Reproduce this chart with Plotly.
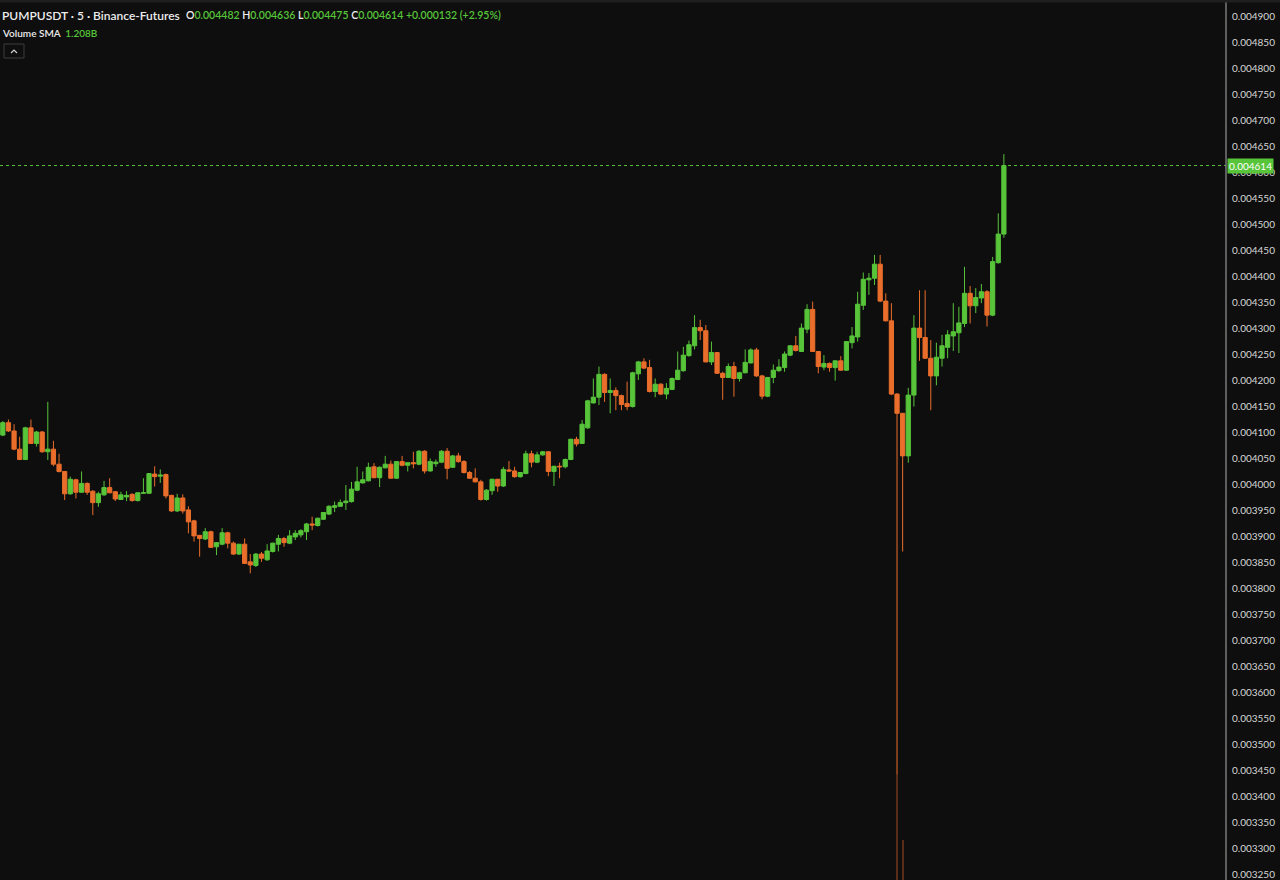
import plotly.graph_objects as go

symbol_title = "PUMPUSDT · 5 · Binance-Futures"
volume_sma_label = "Volume SMA"
volume_sma_value = "1.208B"

opens = [0.004095,0.004119,0.004103,0.004068,0.004048,0.004109,0.004079,0.004101,0.004063,0.004068,
0.004039,0.004025,0.003982,0.004009,0.003985,0.004002,0.003987,0.003965,0.003980,0.003994,
0.003986,0.003971,0.003976,0.003981,0.003969,0.003983,0.003983,0.004020,0.004016,0.004019,
0.003979,0.003949,0.003974,0.003951,0.003930,0.003902,0.003895,0.003909,0.003880,0.003885,
0.003907,0.003887,0.003866,0.003885,0.003851,0.003844,0.003866,0.003855,0.003871,0.003885,
0.003896,0.003887,0.003899,0.003903,0.003909,0.003924,0.003921,0.003933,0.003943,0.003956,
0.003958,0.003965,0.003967,0.003989,0.004003,0.004007,0.004034,0.004013,0.004032,0.004039,
0.004012,0.004044,0.004037,0.004042,0.004039,0.004064,0.004026,0.004040,0.004043,0.004064,
0.004033,0.004055,0.004044,0.004023,0.004012,0.004005,0.003971,0.003988,0.004010,0.003997,
0.004028,0.004026,0.004015,0.004021,0.004059,0.004043,0.004057,0.004063,0.004025,0.004035,
0.004034,0.004048,0.004087,0.004079,0.004109,0.004157,0.004168,0.004212,0.004177,0.004181,
0.004171,0.004156,0.004150,0.004213,0.004236,0.004225,0.004179,0.004193,0.004174,0.004183,
0.004202,0.004219,0.004248,0.004267,0.004302,0.004296,0.004236,0.004254,0.004214,0.004206,
0.004227,0.004204,0.004215,0.004234,0.004259,0.004209,0.004170,0.004206,0.004219,0.004225,
0.004249,0.004267,0.004256,0.004299,0.004337,0.004256,0.004226,0.004233,0.004225,0.004238,
0.004220,0.004273,0.004284,0.004345,0.004394,0.004397,0.004424,0.004353,0.004315,0.004174,
0.004137,0.004055,0.004172,0.004301,0.004283,0.004243,0.004209,0.004243,0.004264,0.004286,
0.004292,0.004310,0.004368,0.004344,0.004359,0.004371,0.004326,0.004427,0.004482]

highs = [0.004122,0.004125,0.004116,0.004092,0.004111,0.004125,0.004103,0.004103,0.004159,0.004084,
0.004059,0.004026,0.004015,0.004011,0.004025,0.004004,0.003989,0.003986,0.004007,0.004012,
0.003987,0.003986,0.003987,0.003983,0.003985,0.004012,0.004022,0.004035,0.004029,0.004021,
0.003980,0.003982,0.003981,0.003958,0.003932,0.003903,0.003916,0.003911,0.003889,0.003916,
0.003909,0.003890,0.003885,0.003896,0.003866,0.003868,0.003870,0.003885,0.003888,0.003903,
0.003899,0.003912,0.003912,0.003914,0.003926,0.003938,0.003936,0.003947,0.003960,0.003967,
0.003971,0.003999,0.004005,0.004034,0.004025,0.004042,0.004041,0.004035,0.004055,0.004046,
0.004045,0.004055,0.004043,0.004063,0.004066,0.004066,0.004050,0.004048,0.004066,0.004070,
0.004057,0.004061,0.004047,0.004026,0.004031,0.004009,0.003991,0.004011,0.004011,0.004034,
0.004045,0.004034,0.004024,0.004065,0.004065,0.004063,0.004064,0.004064,0.004036,0.004042,
0.004050,0.004088,0.004092,0.004124,0.004163,0.004204,0.004227,0.004214,0.004204,0.004187,
0.004173,0.004198,0.004217,0.004238,0.004243,0.004240,0.004204,0.004195,0.004195,0.004206,
0.004256,0.004265,0.004277,0.004326,0.004317,0.004307,0.004275,0.004255,0.004217,0.004233,
0.004236,0.004217,0.004260,0.004262,0.004263,0.004211,0.004207,0.004231,0.004241,0.004256,
0.004268,0.004286,0.004310,0.004347,0.004352,0.004257,0.004249,0.004235,0.004239,0.004247,
0.004276,0.004303,0.004371,0.004408,0.004407,0.004442,0.004442,0.004368,0.004349,0.004176,
0.004137,0.004186,0.004326,0.004374,0.004374,0.004278,0.004273,0.004288,0.004297,0.004349,
0.004342,0.004419,0.004382,0.004378,0.004386,0.004374,0.004438,0.004522,0.004636]

lows = [0.004093,0.004101,0.004066,0.004047,0.004047,0.004078,0.004073,0.004061,0.004047,0.004035,
0.004023,0.003970,0.003980,0.003973,0.003984,0.003980,0.003941,0.003957,0.003978,0.003983,
0.003968,0.003970,0.003968,0.003967,0.003967,0.003982,0.003982,0.003996,0.004003,0.003973,
0.003947,0.003947,0.003944,0.003906,0.003890,0.003861,0.003893,0.003878,0.003864,0.003883,
0.003877,0.003864,0.003864,0.003847,0.003829,0.003841,0.003851,0.003853,0.003869,0.003871,
0.003880,0.003885,0.003893,0.003898,0.003893,0.003912,0.003919,0.003932,0.003941,0.003947,
0.003957,0.003951,0.003965,0.003987,0.004002,0.004006,0.004012,0.003995,0.004031,0.004011,
0.004011,0.004035,0.004025,0.004031,0.004037,0.004021,0.004025,0.004034,0.004041,0.004010,
0.004032,0.004042,0.004021,0.004011,0.004004,0.003969,0.003969,0.003980,0.003986,0.003995,
0.004024,0.004013,0.004013,0.004020,0.004033,0.004041,0.004055,0.004016,0.003997,0.004012,
0.004031,0.004047,0.004073,0.004078,0.004107,0.004156,0.004153,0.004159,0.004137,0.004143,
0.004143,0.004143,0.004148,0.004201,0.004222,0.004177,0.004168,0.004172,0.004164,0.004182,
0.004201,0.004217,0.004246,0.004260,0.004278,0.004235,0.004230,0.004213,0.004163,0.004205,
0.004169,0.004198,0.004214,0.004233,0.004207,0.004164,0.004168,0.004195,0.004217,0.004217,
0.004247,0.004256,0.004255,0.004291,0.004255,0.004214,0.004220,0.004217,0.004200,0.004219,
0.004219,0.004262,0.004275,0.004336,0.004365,0.004384,0.004351,0.004314,0.004172,0.003441,
0.003871,0.004042,0.004150,0.004238,0.004242,0.004143,0.004191,0.004227,0.004243,0.004257,
0.004253,0.004303,0.004310,0.004330,0.004349,0.004304,0.004324,0.004425,0.004475]

closes = [0.004119,0.004103,0.004068,0.004048,0.004109,0.004079,0.004101,0.004063,0.004068,0.004039,
0.004025,0.003982,0.004010,0.003985,0.004002,0.003985,0.003965,0.003982,0.003994,0.003984,
0.003972,0.003980,0.003979,0.003969,0.003984,0.003984,0.004021,0.004015,0.004018,0.003978,
0.003949,0.003974,0.003949,0.003928,0.003901,0.003896,0.003909,0.003879,0.003888,0.003907,
0.003887,0.003866,0.003885,0.003848,0.003845,0.003866,0.003858,0.003872,0.003887,0.003896,
0.003888,0.003901,0.003906,0.003911,0.003924,0.003922,0.003935,0.003946,0.003958,0.003959,
0.003965,0.003968,0.003991,0.004005,0.004009,0.004033,0.004013,0.004033,0.004039,0.004012,
0.004044,0.004037,0.004042,0.004040,0.004064,0.004026,0.004044,0.004043,0.004064,0.004031,
0.004055,0.004044,0.004023,0.004012,0.004005,0.003971,0.003989,0.004010,0.003997,0.004029,
0.004026,0.004015,0.004023,0.004059,0.004043,0.004057,0.004063,0.004025,0.004035,0.004034,
0.004048,0.004087,0.004078,0.004116,0.004161,0.004168,0.004212,0.004177,0.004181,0.004171,
0.004154,0.004150,0.004215,0.004236,0.004224,0.004179,0.004193,0.004174,0.004185,0.004204,
0.004220,0.004249,0.004269,0.004302,0.004296,0.004236,0.004254,0.004214,0.004206,0.004227,
0.004204,0.004215,0.004235,0.004259,0.004209,0.004170,0.004206,0.004220,0.004226,0.004251,
0.004267,0.004258,0.004301,0.004337,0.004256,0.004227,0.004233,0.004225,0.004238,0.004220,
0.004275,0.004286,0.004347,0.004395,0.004397,0.004424,0.004353,0.004315,0.004174,0.004137,
0.004055,0.004172,0.004301,0.004283,0.004243,0.004209,0.004245,0.004267,0.004288,0.004294,
0.004311,0.004368,0.004344,0.004360,0.004371,0.004326,0.004429,0.004482,0.004614]

# Volume bars that are visible at the bottom of the pane (billions); the rest are too small to show
volume_bar_index = [159, 160]
volume_bar_value = [10.5, 4.0]
volume_axis_max = 88.0

y_min, y_max = 0.0032385, 0.0049327
tick_step = 0.00005

GREEN = "#57c43a"
ORANGE = "#ea6e2b"
BG = "#0e0e0e"
TEXT = "#d6d6d6"

W, H = 1280, 880
R_MARGIN = 54
PLOT_W = W - R_MARGIN
BAR_PX = 5.624

n = len(closes)
xs = list(range(n))

fig = go.Figure()
fig.add_trace(go.Bar(
    x=volume_bar_index, y=volume_bar_value, yaxis="y2", width=0.3,
    marker=dict(color="rgba(150,70,30,0.55)", line=dict(width=0)),
    hoverinfo="skip", showlegend=False,
))
fig.add_trace(go.Candlestick(
    x=xs, open=opens, high=highs, low=lows, close=closes,
    increasing=dict(line=dict(color=GREEN, width=1), fillcolor=GREEN),
    decreasing=dict(line=dict(color=ORANGE, width=1), fillcolor=ORANGE),
    whiskerwidth=0, hoverinfo="skip", showlegend=False,
))

last = closes[-1]
prev = closes[-2]
chg = last - prev
pct = chg / prev * 100

def px_x(p):
    return p / PLOT_W

def px_y(p):
    return 1 - p / H

shapes = [
    dict(type="line", xref="paper", x0=0, x1=1, yref="y", y0=last, y1=last,
         line=dict(color=GREEN, width=1, dash="dot")),
    dict(type="line", xref="paper", x0=1, x1=1, yref="paper", y0=0, y1=1,
         line=dict(color="#7a7a7a", width=1.5)),
    dict(type="rect", xref="paper", yref="paper", x0=0, x1=W / PLOT_W, y0=px_y(2.5), y1=1,
         line=dict(width=0), fillcolor="#1f1f1f"),
    dict(type="rect", xref="paper", yref="paper", x0=px_x(4), x1=px_x(24), y0=px_y(58), y1=px_y(44),
         line=dict(color="#3c3c3c", width=1), fillcolor=BG),
    dict(type="path", xref="paper", yref="paper",
         path=f"M {px_x(11)},{px_y(53)} L {px_x(14)},{px_y(50)} L {px_x(17)},{px_y(53)}",
         line=dict(color="#cfcfcf", width=1.2)),
]

g = lambda s: f"<span style='color:{GREEN}'>{s}</span>"
ohlc_text = (f"O{g(f'{opens[-1]:.6f}')} H{g(f'{highs[-1]:.6f}')} "
             f"L{g(f'{lows[-1]:.6f}')} C{g(f'{closes[-1]:.6f}')} "
             f"{g(f'{chg:+.6f} ({pct:+.2f}%)')}")

annotations = [
    dict(xref="paper", yref="paper", x=px_x(0), y=px_y(15), xanchor="left", yanchor="middle",
         text=symbol_title, showarrow=False, font=dict(family="Lato", size=12, color="#ececec", weight=600)),
    dict(xref="paper", yref="paper", x=px_x(184), y=px_y(15), xanchor="left", yanchor="middle",
         text=ohlc_text, showarrow=False, font=dict(family="Lato", size=10.5, color="#ececec", weight=600)),
    dict(xref="paper", yref="paper", x=px_x(0), y=px_y(33), xanchor="left", yanchor="middle",
         text=f"{volume_sma_label}  {g(volume_sma_value)}", showarrow=False,
         font=dict(family="Lato", size=10, color="#ececec", weight=600)),
    dict(xref="paper", yref="y", x=1, y=last, xanchor="left", yanchor="middle", xshift=1,
         text=f"{last:.6f}", showarrow=False, bgcolor=GREEN, borderpad=1,
         font=dict(family="Lato", size=10, color="#ffffff")),
]

x_start = -0.5
fig.update_layout(
    width=W, height=H,
    margin=dict(l=0, r=R_MARGIN, t=0, b=0, pad=0),
    paper_bgcolor=BG, plot_bgcolor=BG,
    boxgap=0.25, boxgroupgap=0, bargap=0,
    xaxis=dict(range=[x_start, x_start + PLOT_W / BAR_PX], rangeslider=dict(visible=False),
               showgrid=False, zeroline=False, showticklabels=False, showline=False, fixedrange=True),
    yaxis=dict(range=[y_min, y_max], side="right", showgrid=False, zeroline=False,
               tick0=0, dtick=tick_step, tickformat=".6f", ticks="", ticklabelstandoff=5,
               tickfont=dict(family="Lato", size=10, color=TEXT), showline=False),
    yaxis2=dict(range=[0, volume_axis_max], overlaying="y", visible=False, fixedrange=True),
    shapes=shapes, annotations=annotations, showlegend=False,
)

fig.write_html("out.html", config={"displayModeBar": False},
               post_script="document.body.style.margin='0';document.body.style.overflow='hidden';")
